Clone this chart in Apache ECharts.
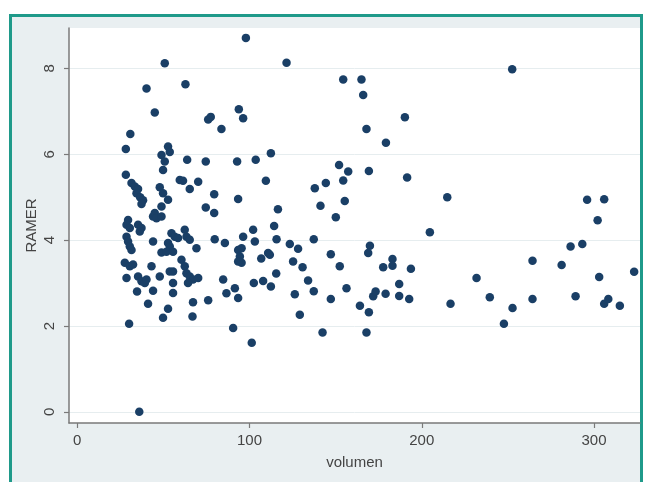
<!DOCTYPE html>
<html>
<head>
<meta charset="utf-8">
<script src="https://cdn.jsdelivr.net/npm/echarts@6/dist/echarts.min.js"></script>
<style>
  html, body { margin: 0; padding: 0; background: #ffffff; }
  #frame {
    position: absolute; left: 9px; top: 14px; width: 634px; height: 480px;
    box-sizing: border-box; border: 3px solid #1f9a8a; border-bottom: none;
    background: #e9eff1;
  }
  #main { position: absolute; left: 0; top: 0; width: 646px; height: 482px; }
</style>
</head>
<body>
<div id="frame"></div>
<div id="main"></div>
<script>
// volumen (x) and RAMER (y)
var volumen = [
    30.8, 28.2, 28.2, 31.5, 33.4, 35.3, 34.4, 36.5, 38.2, 37.3,
    29.5, 28.6, 30.5, 35.3, 37.3, 36.3, 44.0, 45.0, 46.0, 48.9,
    28.6, 29.5, 30.5, 31.5, 44.0, 27.6, 30.5, 32.4, 28.6, 35.3,
    37.3, 39.2, 40.2, 43.1, 47.9, 34.7, 44.0, 41.1, 30.1, 36.0,
    40.2, 45.0,
    50.8, 62.8, 52.7, 48.9, 53.7, 50.8, 49.8, 63.8, 74.6, 59.5,
    61.4, 70.2, 65.3, 47.9, 49.8, 52.7, 48.9, 74.6, 54.7, 56.6,
    52.7, 53.7, 62.4, 63.4, 65.3, 69.2, 48.9, 51.8, 55.6, 58.5,
    53.7, 55.6, 60.5, 62.4, 63.4, 65.3, 67.2, 70.2, 64.3, 55.6,
    55.6, 67.2, 52.7, 49.8, 66.9,
    97.9, 76.0, 77.5, 83.7, 93.8, 96.3, 92.8, 103.6, 79.5, 93.4,
    79.5, 79.8, 85.7, 96.3, 102.1, 103.1, 93.4, 95.4, 94.4, 95.4,
    93.4, 106.8, 76.0, 84.7, 86.6, 91.5, 93.4, 102.5, 107.9, 90.5,
    101.3, 109.5, 110.8, 111.8,
    121.5, 154.4, 165.0, 166.0, 167.9, 190.2, 179.2, 112.4, 116.5, 114.3,
    115.7, 123.4, 128.2, 137.3, 125.3, 130.8, 115.5, 147.2, 152.4, 152.0,
    157.3, 154.4, 155.3, 150.1, 137.9, 144.3, 141.2, 169.3, 191.5, 169.9,
    168.9, 183.0, 177.6, 183.0, 193.7, 186.9, 171.8, 173.2, 179.0, 186.9,
    192.7, 156.3, 164.1, 169.3, 167.9, 147.2, 137.3, 134.0, 126.3, 129.2,
    142.4, 112.4,
    252.5, 214.8, 204.7, 296.0, 305.9, 302.1, 286.4, 293.2, 264.3, 281.2,
    231.8, 303.0, 323.3, 216.7, 239.5, 252.7, 247.7, 264.3, 289.3, 305.9,
    308.3, 315.0
];
var ramer = [
    6.47, 6.12, 5.52, 5.33, 5.25, 5.19, 5.09, 5.00, 4.93, 4.84,
    4.47, 4.36, 4.28, 4.36, 4.28, 4.20, 4.55, 4.63, 4.51, 4.55,
    4.08, 3.97, 3.85, 3.77, 3.97, 3.47, 3.39, 3.43, 3.12, 3.15,
    3.04, 3.00, 3.08, 3.39, 3.15, 2.80, 2.82, 2.52, 2.05, 0.00,
    7.53, 6.97,
    8.12, 7.63, 6.18, 5.98, 6.05, 5.83, 5.63, 5.87, 5.83, 5.40,
    5.38, 5.36, 5.19, 5.23, 5.09, 4.94, 4.78, 4.76, 4.16, 4.08,
    3.93, 3.85, 4.24, 4.08, 4.01, 3.81, 3.71, 3.73, 3.73, 4.05,
    3.27, 3.27, 3.54, 3.39, 3.23, 3.15, 3.08, 3.12, 3.00, 3.00,
    2.77, 2.55, 2.40, 2.19, 2.22,
    8.71, 6.81, 6.87, 6.59, 7.05, 6.84, 5.83, 5.87, 5.07, 4.96,
    4.63, 4.02, 3.93, 4.08, 4.24, 3.97, 3.77, 3.81, 3.62, 3.47,
    3.50, 3.57, 2.60, 3.08, 2.76, 2.88, 2.65, 3.00, 3.05, 1.95,
    1.61, 5.38, 3.70, 3.66,
    8.13, 7.74, 7.74, 7.38, 6.59, 6.86, 6.27, 6.02, 4.72, 4.33,
    4.02, 3.91, 3.80, 4.02, 3.50, 3.37, 3.22, 3.67, 3.39, 5.75,
    5.60, 5.39, 4.91, 4.53, 5.21, 5.33, 4.80, 5.61, 5.46, 3.87,
    3.70, 3.56, 3.37, 3.40, 3.33, 2.98, 2.69, 2.80, 2.75, 2.70,
    2.63, 2.88, 2.47, 2.32, 1.85, 2.63, 2.81, 3.06, 2.74, 2.26,
    1.85, 2.92,
    7.98, 5.00, 4.18, 4.94, 4.95, 4.46, 3.85, 3.91, 3.52, 3.42,
    3.12, 3.14, 3.26, 2.52, 2.67, 2.42, 2.05, 2.63, 2.69, 2.52,
    2.63, 2.47
];
var xTicks = [0, 100, 200, 300];
var yTicks = [0, 2, 4, 6, 8];

function buildPoints(){
    var pts = [];
    for(var i = 0 ; i < volumen.length ; i ++){
        pts.push([volumen[i], ramer[i]]);
    }
    return pts;
}

function drawChart(){
    var oDom = document.getElementById('main');
    var chart = echarts.init(oDom, null, {renderer: 'canvas'});
    var txt = {color: '#444444', fontSize: 15, fontFamily: 'Liberation Sans, Arial, sans-serif'};
    var option = {
        backgroundColor: 'transparent',
        animation: false,
        grid: {
            left: 69, right: 6, top: 28, bottom: 59,
            show: true, backgroundColor: '#ffffff', borderWidth: 0
        },
        xAxis: {
            type: 'value',
            min: -4.8, max: 326.7,
            name: 'volumen',
            nameLocation: 'middle',
            nameGap: 32,
            nameMoveOverlap: false,
            nameTextStyle: txt,
            axisLine: {show: true, onZero: false, lineStyle: {color: '#7a7a7a', width: 1.5}},
            axisTick: {show: true, length: 5, customValues: xTicks, lineStyle: {color: '#7a7a7a', width: 1.2}},
            axisLabel: Object.assign({customValues: xTicks, margin: 10}, txt),
            splitLine: {show: false}
        },
        yAxis: {
            type: 'value',
            min: -0.26, max: 8.94,
            name: 'RAMER',
            nameLocation: 'middle',
            nameGap: 30,
            nameMoveOverlap: false,
            nameTextStyle: txt,
            axisLine: {show: true, onZero: false, lineStyle: {color: '#7a7a7a', width: 1.5}},
            axisTick: {show: true, length: 5, customValues: yTicks, lineStyle: {color: '#7a7a7a', width: 1.2}},
            axisLabel: Object.assign({customValues: yTicks, rotate: 90, margin: 12}, txt),
            splitLine: {show: true, lineStyle: {color: '#e6edef', width: 1}}
        },
        series: [
            {
                type: 'scatter',
                data: buildPoints(),
                symbolSize: 8.5,
                itemStyle: {color: '#1a3f66', opacity: 1}
            }
        ]
    };
    chart.setOption(option);
}

drawChart();
</script>
</body>
</html>
